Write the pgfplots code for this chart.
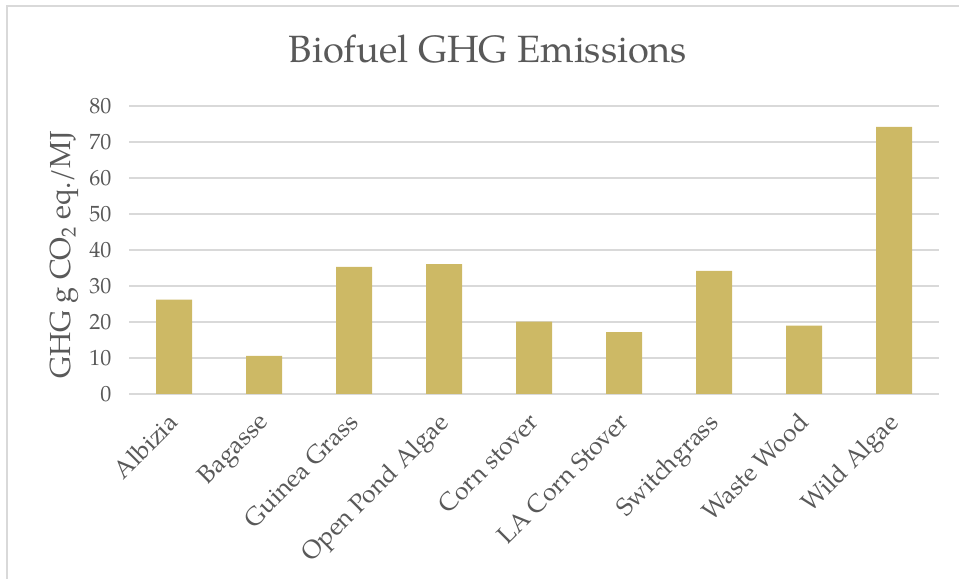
\documentclass[border=0pt]{standalone}
\usepackage{fontspec}
\setmainfont{TeX Gyre Pagella}
\usepackage{pgfplots}
\pgfplotsset{compat=1.18}
\definecolor{barc}{RGB}{205,185,101}
\definecolor{txt}{RGB}{89,89,89}
\definecolor{grd}{RGB}{217,217,217}
\begin{document}
\begin{tikzpicture}[x=1bp,y=1bp]
\path[use as bounding box] (0,0) rectangle (959,579);
\draw[grd, line width=1.3bp] (7,0) -- (7,573) -- (959,573);
\node[txt, font=\fontsize{38bp}{42bp}\selectfont, anchor=base] at (488,516) {Biofuel GHG Emissions};
\node[txt, font=\fontsize{29bp}{32bp}\selectfont, rotate=90, anchor=center, inner sep=0pt] at (64,324) {GHG g CO\textsubscript{2} eq./MJ};
\begin{axis}[
  at={(129bp,185bp)}, anchor=south west, scale only axis,
  width=810bp, height=288bp,
  xmin=-0.5, xmax=8.5, ymin=0, ymax=80,
  ytick={0,10,...,80},
  xtick={0,...,8},
  xticklabels={Albizia,Bagasse,Guinea Grass,Open Pond Algae,Corn stover,LA Corn Stover,Switchgrass,Waste Wood,Wild Algae},
  axis line style={draw=none},
  major tick length=0pt,
  ymajorgrids, grid style={grd, line width=1.3bp},
  yticklabel style={txt, font=\fontsize{22bp}{26bp}\selectfont, xshift=-14bp},
  xticklabel style={txt, font=\fontsize{25bp}{28bp}\selectfont, inner sep=0pt, xshift=-7bp, yshift=-17bp, rotate=45, anchor=north east},
  /pgf/number format/assume math mode=true,
  clip=false,
]
\addplot[ybar, bar width=36bp, bar shift=0pt, fill=barc, draw=none] coordinates {
(0,26.2) (1,10.6) (2,35.3) (3,36.1) (4,20.1) (5,17.2) (6,34.2) (7,19.0) (8,74.2)
};
\end{axis}
\end{tikzpicture}
\end{document}
